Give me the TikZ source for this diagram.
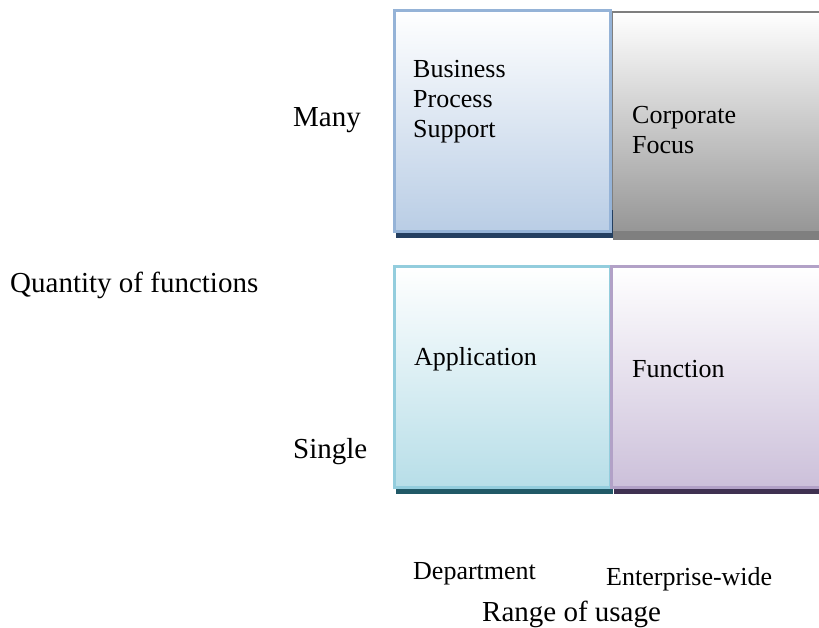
\documentclass[tikz,border=0pt]{standalone}
\usepackage{fontspec}
\setmainfont{Liberation Serif}
\definecolor{bpsline}{HTML}{95B3D7}
\definecolor{bpsfill}{HTML}{B9CDE5}
\definecolor{bpsshadow}{HTML}{243F60}
\definecolor{corpline}{HTML}{7F7F7F}
\definecolor{corpfill}{HTML}{969696}
\definecolor{corpshadow}{HTML}{7F7F7F}
\definecolor{appline}{HTML}{93CDDD}
\definecolor{appfill}{HTML}{B7DEE8}
\definecolor{appshadow}{HTML}{215967}
\definecolor{funcline}{HTML}{B2A1C7}
\definecolor{funcfill}{HTML}{CCC0DA}
\definecolor{funcshadow}{HTML}{3F3151}
\begin{document}
\begin{tikzpicture}[x=1pt,y=-1pt,
  quad/.style={rectangle, inner sep=0pt, outer sep=0pt, anchor=north west, line width=2.5pt},
  shadowbox/.style={rectangle, inner sep=0pt, outer sep=0pt, anchor=north west},
  big/.style={inner sep=0pt, anchor=base west, font=\fontsize{29}{34}\selectfont},
  small/.style={inner sep=0pt, anchor=base west, font=\fontsize{26}{30}\selectfont},
  boxtext/.style={inner sep=0pt, anchor=north west, align=left, font=\fontsize{26}{30}\selectfont}]
\useasboundingbox (0,0) rectangle (819,628);
% upper row
\node[shadowbox, fill=corpshadow, minimum width=220pt, minimum height=28pt] (corpsh) at (613,212) {};
\node[quad, draw=corpline, top color=white, bottom color=corpfill, minimum width=220pt, minimum height=220pt] (corp) at (612,12) {};
\node[shadowbox, fill=bpsshadow, minimum width=217pt, minimum height=28pt] (bpssh) at (396,210) {};
\node[quad, draw=bpsline, top color=white, bottom color=bpsfill, minimum width=216pt, minimum height=221pt] (bps) at (394.5,10.5) {};
% lower row
\node[shadowbox, fill=appshadow, minimum width=217pt, minimum height=28pt] (appsh) at (396,466) {};
\node[quad, draw=appline, top color=white, bottom color=appfill, minimum width=216pt, minimum height=221pt] (app) at (394.5,266.5) {};
\node[shadowbox, fill=funcshadow, minimum width=220pt, minimum height=28pt] (funcsh) at (614,466) {};
\node[quad, draw=funcline, top color=white, bottom color=funcfill, minimum width=220pt, minimum height=221pt] (func) at (611.5,266.5) {};
% box texts
\node[boxtext] (bpstext) at (413,60) {Business\\Process\\Support};
\node[boxtext] (corptext) at (632,106) {Corporate\\Focus};
\node[small] (apptext) at (414,365) {Application};
\node[small] (functext) at (632,377) {Function};
% axis labels
\node[big] (many) at (293,127) {Many};
\node[big] (single) at (293,458) {Single};
\node[big] (qty) at (10,293) {Quantity of functions};
\node[small] (dept) at (413,579) {Department};
\node[small] (ent) at (606,585) {Enterprise-wide};
\node[big] (range) at (482,621) {Range of usage};
\end{tikzpicture}
\end{document}
